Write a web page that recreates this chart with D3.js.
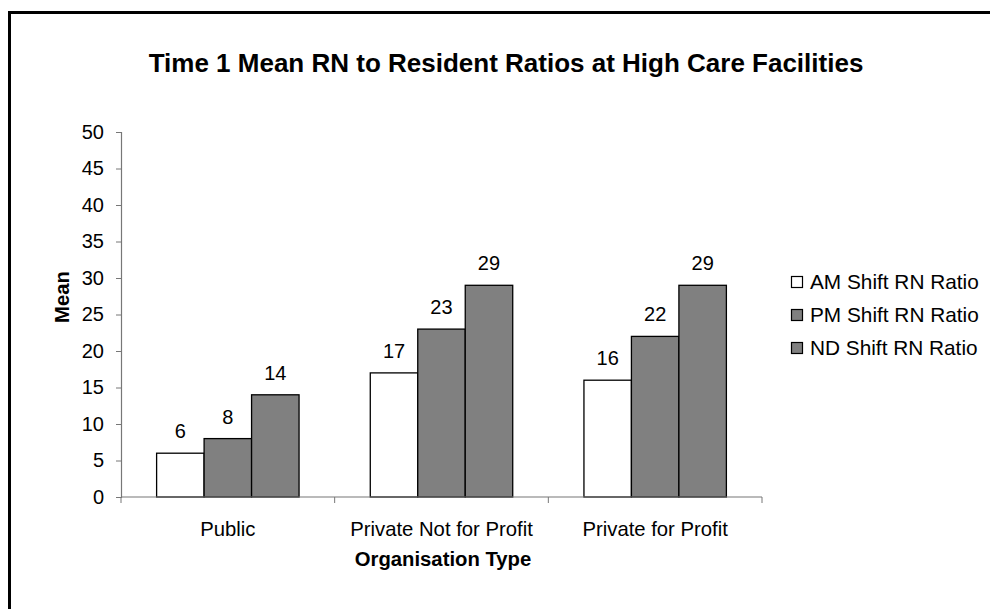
<!DOCTYPE html>
<html>
<head>
<meta charset="utf-8">
<script src="https://cdn.jsdelivr.net/npm/d3@7"></script>
<style>
  html, body { margin: 0; padding: 0; background: #fff; }
  svg { display: block; font-family: Arial, "Liberation Sans", sans-serif; }
</style>
</head>
<body>
<svg id="chart" width="990" height="609"></svg>
<script>
const categories = ["Public", "Private Not for Profit", "Private for Profit"];
const seriesNames = ["AM Shift RN Ratio", "PM Shift RN Ratio", "ND Shift RN Ratio"];
const amValues = [6, 17, 16];
const pmValues = [8, 23, 22];
const ndValues = [14, 29, 29];
const yTicks = [0, 5, 10, 15, 20, 25, 30, 35, 40, 45, 50];
const seriesColors = ["#ffffff", "#808080", "#808080"];
const titleText = "Time 1 Mean RN to Resident Ratios at High Care Facilities";
const xTitle = "Organisation Type";
const yTitle = "Mean";

const seriesValues = [amValues, pmValues, ndValues];

const svg = d3.select("#chart");

// outer frame (extends beyond the visible area on right and bottom)
svg.append("rect")
  .attr("x", 9.5).attr("y", 12.5)
  .attr("width", 1100).attr("height", 700)
  .attr("fill", "none").attr("stroke", "#000").attr("stroke-width", 3);

const plot = { left: 121, right: 762, top: 132, bottom: 497 };

const x = d3.scaleBand().domain(categories).range([plot.left, plot.right]).paddingInner(0).paddingOuter(0);
const barW = x.bandwidth() / 4.5;
const x1 = d3.scaleBand().domain(seriesNames).range([0, barW * 3]);
const y = d3.scaleLinear().domain([0, 50]).range([plot.bottom, plot.top]);

// title
svg.append("text")
  .attr("x", 506).attr("y", 72)
  .attr("text-anchor", "middle")
  .attr("font-weight", "bold").attr("font-size", 26)
  .text(titleText);

// y axis
const yAxis = d3.axisLeft(y).tickValues(yTicks).tickSize(5).tickPadding(12).tickFormat(d3.format("d"));
const gy = svg.append("g").attr("transform", `translate(${plot.left},0)`).call(yAxis);
gy.select(".domain").attr("stroke", "#777").attr("stroke-width", 1.2);
gy.selectAll(".tick line").attr("stroke", "#777");
gy.selectAll(".tick text").attr("font-size", 20).attr("fill", "#000").attr("font-family", "Arial, 'Liberation Sans', sans-serif");

// bars
const groups = svg.append("g").selectAll("g")
  .data(categories)
  .join("g")
  .attr("transform", d => `translate(${x(d) + barW * 0.75},0)`);

groups.each(function(cat, ci) {
  const g = d3.select(this);
  seriesNames.forEach((s, si) => {
    const v = seriesValues[si][ci];
    g.append("rect")
      .attr("x", x1(s)).attr("y", y(v))
      .attr("width", x1.bandwidth()).attr("height", y(0) - y(v))
      .attr("fill", seriesColors[si]).attr("stroke", "#000").attr("stroke-width", 1.3);
    g.append("text")
      .attr("x", x1(s) + x1.bandwidth() / 2).attr("y", y(v) - 15)
      .attr("text-anchor", "middle").attr("font-size", 20)
      .text(v);
  });
});

// x axis (ticks between categories)
const gx = svg.append("g").attr("transform", `translate(0,${plot.bottom})`);
gx.append("line").attr("x1", plot.left).attr("x2", plot.right).attr("stroke", "#777").attr("stroke-width", 1.2);
const boundaries = categories.map(c => x(c)).concat([x(categories[categories.length - 1]) + x.bandwidth()]);
gx.selectAll("line.tk").data(boundaries).join("line").attr("class", "tk")
  .attr("x1", d => d).attr("x2", d => d).attr("y1", 0).attr("y2", 6).attr("stroke", "#777");
gx.selectAll("text").data(categories).join("text")
  .attr("x", d => x(d) + x.bandwidth() / 2).attr("y", 39)
  .attr("text-anchor", "middle").attr("font-size", 20.3)
  .text(d => d);

// axis titles
svg.append("text")
  .attr("x", 443).attr("y", 566)
  .attr("text-anchor", "middle").attr("font-weight", "bold").attr("font-size", 20.3)
  .text(xTitle);
svg.append("text")
  .attr("transform", "translate(69,297) rotate(-90)")
  .attr("text-anchor", "middle").attr("font-weight", "bold").attr("font-size", 20.3)
  .text(yTitle);

// legend
const legend = svg.append("g").selectAll("g").data(seriesNames).join("g")
  .attr("transform", (d, i) => `translate(791,${282 + i * 33})`);
legend.append("rect")
  .attr("x", 0.5).attr("y", -5.5).attr("width", 11).attr("height", 11)
  .attr("fill", (d, i) => seriesColors[i]).attr("stroke", "#000").attr("stroke-width", 1.2);
legend.append("text")
  .attr("x", 19).attr("y", 7).attr("font-size", 20.8)
  .text(d => d);
</script>
</body>
</html>
